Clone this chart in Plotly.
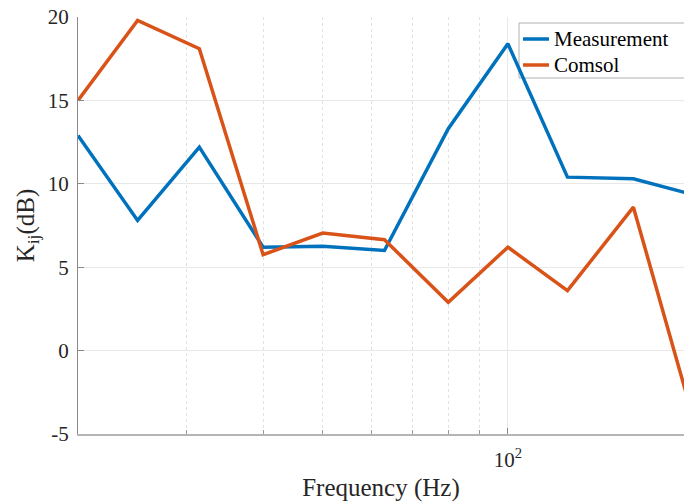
import math
import plotly.graph_objects as go

# One-third octave band centre frequencies (Hz)
freq_hz = [20, 25, 31.5, 40, 50, 63, 80, 100, 125, 160, 200]

# Vibration reduction index K_ij (dB)
measurement_db = [12.9, 7.8, 12.2, 6.2, 6.25, 6.0, 13.3, 18.4, 10.4, 10.3, 9.35]
comsol_db = [15.0, 19.8, 18.1, 5.75, 7.05, 6.65, 2.9, 6.2, 3.6, 8.6, -4.0]

series_names = ["Measurement", "Comsol"]

y_ticks = [-5, 0, 5, 10, 15, 20]
y_tick_text = ["-5", "0", "5", "10", "15", "20"]
x_major = [100]
x_major_text = ["10<sup>2</sup>"]
x_minor = [30, 40, 50, 60, 70, 80, 90]

BLUE = "#0072BD"
ORANGE = "#D95319"
FONT = "Liberation Serif"
TXT = "#262626"

W, H = 684, 503
ML, MR, MT, MB = 78, 0, 17, 69
plot_w = W - ML - MR
plot_h = H - MT - MB
px_per_decade = 615.0
x_lo = math.log10(20)
x_hi = x_lo + plot_w / px_per_decade


def px_x(px):
    return (px - ML) / plot_w


def px_y(py):
    return (H - MB - py) / plot_h


fig = go.Figure()
fig.add_trace(go.Scatter(x=freq_hz, y=measurement_db, mode="lines", name=series_names[0],
                         line=dict(color=BLUE, width=3.5), showlegend=False))
fig.add_trace(go.Scatter(x=freq_hz, y=comsol_db, mode="lines", name=series_names[1],
                         line=dict(color=ORANGE, width=3.5), showlegend=False))

# Legend box in the upper right corner, running off the right edge
fig.add_shape(type="rect", xref="paper", yref="paper",
              x0=px_x(519), x1=px_x(720), y0=px_y(78), y1=px_y(23),
              line=dict(color="#b0b0b0", width=1), fillcolor="white", layer="below")
for row, (name, color) in enumerate(zip(series_names, [BLUE, ORANGE])):
    cy = 39 + 26 * row
    fig.add_shape(type="line", xref="paper", yref="paper",
                  x0=px_x(523), x1=px_x(549), y0=px_y(cy), y1=px_y(cy),
                  line=dict(color=color, width=3.5), layer="above")
    fig.add_annotation(xref="paper", yref="paper", x=px_x(552), y=px_y(cy),
                       xanchor="left", yanchor="middle", showarrow=False,
                       text=name, font=dict(family=FONT, size=21, color="black"))

fig.update_layout(
    width=W, height=H,
    margin=dict(l=ML, r=MR, t=MT, b=MB, pad=0, autoexpand=False),
    paper_bgcolor="white", plot_bgcolor="white",
    font=dict(family=FONT, size=21, color=TXT),
    showlegend=False,
)

fig.update_xaxes(
    type="log", range=[x_lo, x_hi],
    tickmode="array", tickvals=x_major, ticktext=x_major_text,
    ticks="inside", ticklen=6, tickcolor="#888888",
    showline=True, linecolor="#b5b5b5", linewidth=1.5, mirror=False,
    showgrid=True, gridcolor="#e8e8e8", gridwidth=1,
    zeroline=False,
    tickfont=dict(family=FONT, size=21, color=TXT),
    ticklabelstandoff=6,
    minor=dict(tickmode="array", tickvals=x_minor, ticks="inside", ticklen=4,
               tickcolor="#999999", showgrid=True, gridcolor="#e2e2e2",
               griddash="dot", gridwidth=1),
    title=dict(text="Frequency (Hz)", font=dict(family=FONT, size=25, color=TXT),
               standoff=8),
)

fig.update_yaxes(
    range=[-5, 20],
    tickmode="array", tickvals=y_ticks, ticktext=y_tick_text,
    ticks="inside", ticklen=6, tickcolor="#888888",
    showline=True, linecolor="#8a8a8a", linewidth=1, mirror=False,
    showgrid=True, gridcolor="#e8e8e8", gridwidth=1,
    zeroline=False,
    tickfont=dict(family=FONT, size=21, color=TXT),
    ticklabelstandoff=4,
    title=dict(text="K<sub>ij</sub>(dB)", font=dict(family=FONT, size=25, color=TXT),
               standoff=6),
)

fig.write_html("out.html")
